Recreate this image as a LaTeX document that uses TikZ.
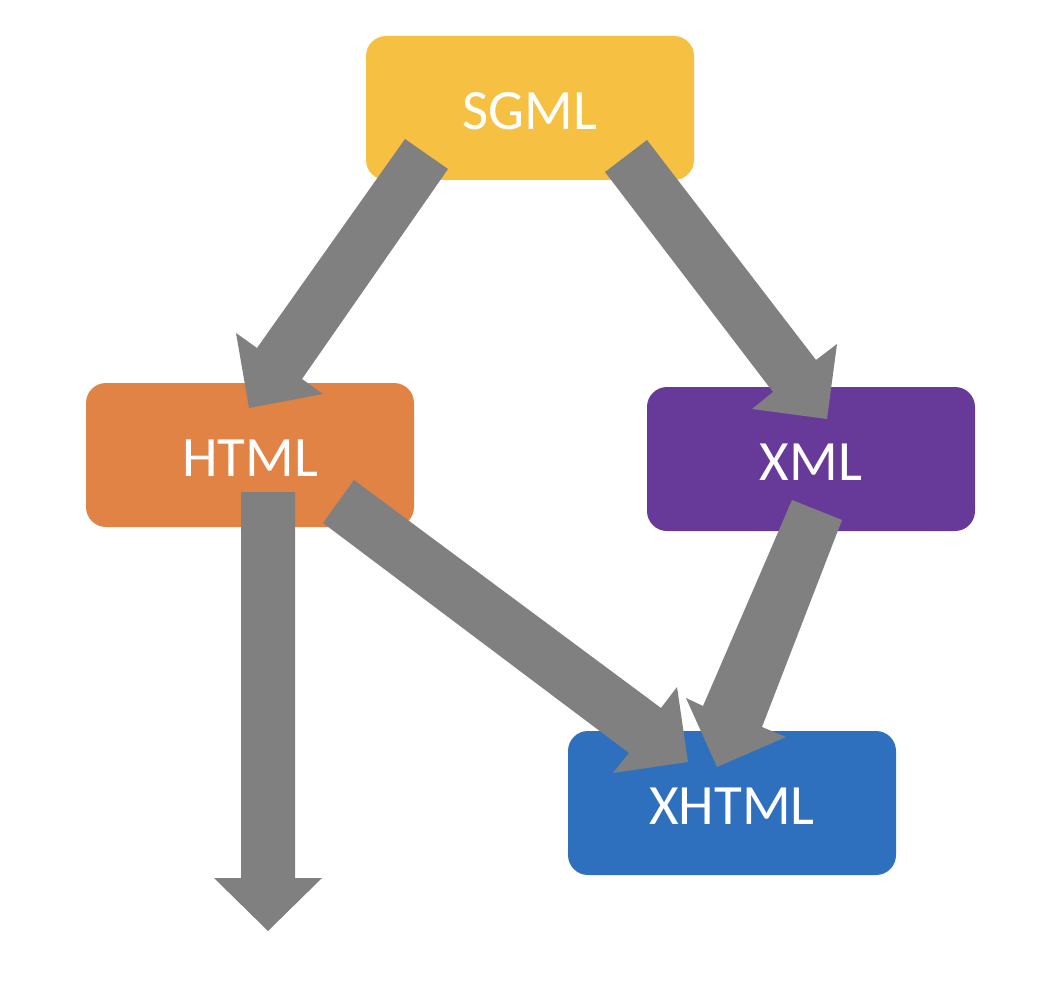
\documentclass[tikz,border=0pt]{standalone}
\usepackage{fontspec}
\setmainfont{Carlito}
\definecolor{sgmlc}{HTML}{F6C143}
\definecolor{htmlc}{HTML}{E08344}
\definecolor{xmlc}{HTML}{673A99}
\definecolor{xhtmlc}{HTML}{2E70BD}
\definecolor{arrc}{HTML}{808080}
\tikzset{
  box/.style={rectangle, rounded corners=20pt, minimum width=328pt, minimum height=144pt,
    inner sep=0pt, text=white, font=\fontsize{57}{62}\selectfont},
  lbl/.style={text=white, font=\fontsize{57}{62}\selectfont, inner sep=0pt},
  blockarrow/.style={fill=arrc, draw=none}
}
\begin{document}
\begin{tikzpicture}[x=1pt,y=-1pt]
\useasboundingbox (0,0) rectangle (1062,992);
\node[box, fill=sgmlc] (sgml) at (530,108) {};
\node[box, fill=htmlc] (html) at (250,455) {};
\node[box, fill=xmlc] (xml) at (811,459) {};
\node[box, fill=xhtmlc] (xhtml) at (732,803) {};
\node[lbl] (sgmlt) at (530,111) {SGML};
\node[lbl] (htmlt) at (250,458) {HTML};
\node[lbl] (xmlt) at (811,462) {XML};
\node[lbl] (xhtmlt) at (732,806) {XHTML};
% SGML -> HTML
\fill[blockarrow] (405,139) -- (448,169) -- (302,379) -- (323,394) -- (249,408) -- (236,333) -- (257,348) -- cycle;
% SGML -> XML
\fill[blockarrow] (647,140) -- (816,360) -- (837,344) -- (827,419) -- (752,409) -- (773,392) -- (605,172) -- cycle;
% HTML down
\fill[blockarrow] (241,492) -- (295,492) -- (295,878) -- (322,878) -- (268,931) -- (214,878) -- (241,878) -- cycle;
% HTML -> XHTML
\fill[blockarrow] (354,480) -- (661,708) -- (677,687) -- (688,762) -- (613,773) -- (629,753) -- (323,523) -- cycle;
% XML -> XHTML
\fill[blockarrow] (792,500) -- (842,520) -- (762,727) -- (786,737) -- (717,767) -- (686,698) -- (703,706) -- cycle;
\end{tikzpicture}
\end{document}
